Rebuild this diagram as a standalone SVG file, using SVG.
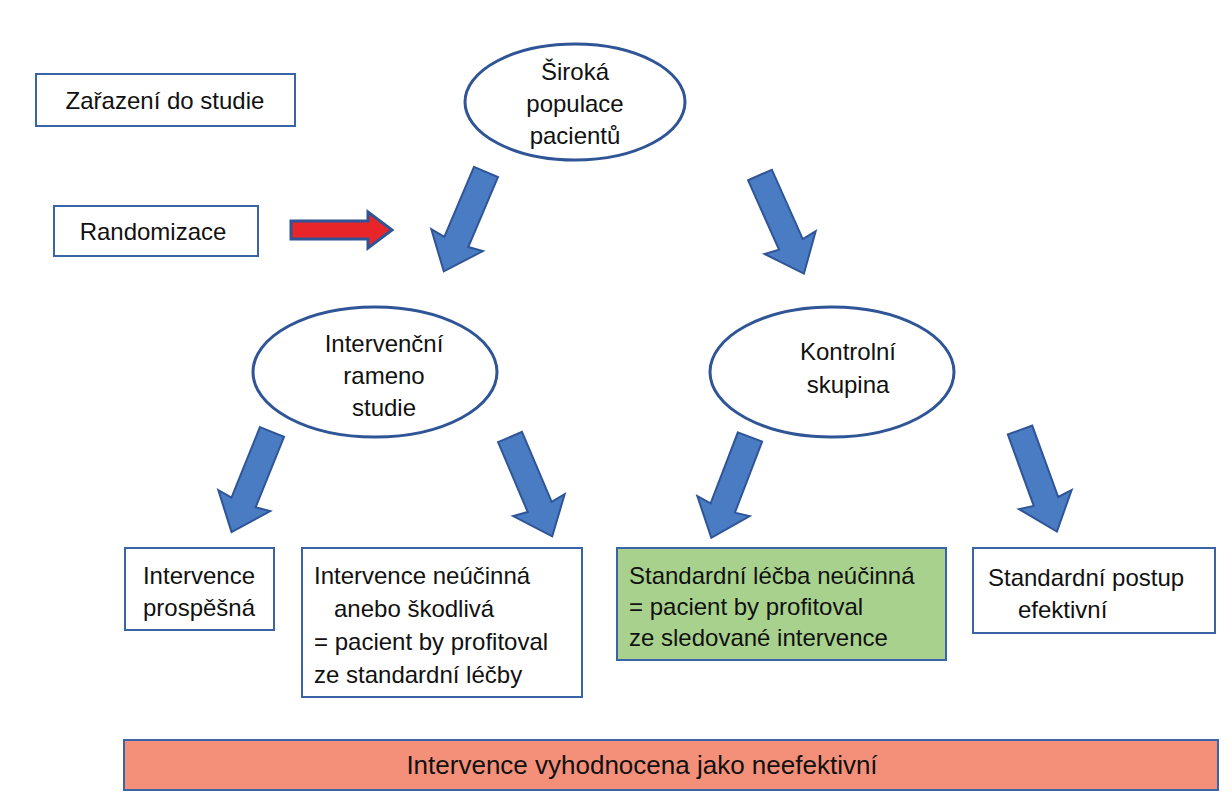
<svg xmlns="http://www.w3.org/2000/svg" width="1232" height="800" viewBox="0 0 1232 800">
<style>
text{font-family:"Liberation Sans",Arial,sans-serif;font-size:24px;fill:#111}
.b{fill:#fff;stroke:#3b64a8;stroke-width:2}
.e{fill:#fff;stroke:#2f5597;stroke-width:3}
.a{fill:#4a7cc4;stroke:#2f5597;stroke-width:2}
</style>
<defs>
<polygon id="arr" points="-13,0 13,0 13,76 28,74 0,108 -28,74 -13,76"/>
</defs>
<rect width="1232" height="800" fill="#fff"/>
<g id="zarazeni"><rect class="b" x="36" y="74" width="259" height="52"/><text x="165" y="109" text-anchor="middle">Zařazení do studie</text></g>
<g id="randomizace"><rect class="b" x="54" y="206" width="204" height="50"/><text x="153" y="240" text-anchor="middle">Randomizace</text></g>
<g id="populace"><ellipse class="e" cx="575" cy="102" rx="110" ry="58"/>
<text x="575" y="80" text-anchor="middle">Široká</text><text x="575" y="112" text-anchor="middle">populace</text><text x="575" y="144" text-anchor="middle">pacientů</text></g>
<g id="intervencni"><ellipse class="e" cx="375" cy="372" rx="122" ry="65"/>
<text x="384" y="352" text-anchor="middle">Intervenční</text><text x="384" y="384" text-anchor="middle">rameno</text><text x="384" y="416" text-anchor="middle">studie</text></g>
<g id="kontrolni"><ellipse class="e" cx="832" cy="372" rx="122" ry="65"/>
<text x="848" y="360" text-anchor="middle">Kontrolní</text><text x="848" y="393" text-anchor="middle">skupina</text></g>
<g id="prospesna"><rect class="b" x="125" y="548" width="149" height="82"/>
<text x="199" y="584" text-anchor="middle">Intervence</text><text x="199" y="616" text-anchor="middle">prospěšná</text></g>
<g id="neucinna"><rect class="b" x="302" y="548" width="280" height="149"/>
<text x="314" y="584">Intervence neúčinná</text><text x="334" y="617">anebo škodlivá</text><text x="314" y="650">= pacient by profitoval</text><text x="314" y="683">ze standardní léčby</text></g>
<g id="standard-neucinna"><rect x="617" y="548" width="329" height="112" fill="#a9d18e" stroke="#3b64a8" stroke-width="2"/>
<text x="629" y="584">Standardní léčba neúčinná</text><text x="629" y="615">= pacient by profitoval</text><text x="629" y="646">ze sledované intervence</text></g>
<g id="standard-efektivni"><rect class="b" x="973" y="548" width="242" height="85"/>
<text x="988" y="586">Standardní postup</text><text x="1018" y="618">efektivní</text></g>
<g id="neefektivni"><rect x="124" y="740" width="1094" height="50" fill="#f4907a" stroke="#3b64a8" stroke-width="2"/>
<text x="642" y="774" text-anchor="middle" style="font-size:26px">Intervence vyhodnocena jako neefektivní</text></g>
<g id="connectors">
<use href="#arr" class="a" transform="translate(486,172) rotate(23)"/>
<use href="#arr" class="a" transform="translate(760,175) rotate(-24)"/>
<use href="#arr" class="a" transform="translate(272,432) rotate(22)"/>
<use href="#arr" class="a" transform="translate(510,437) rotate(-23)"/>
<use href="#arr" class="a" transform="translate(750,437) rotate(21)"/>
<use href="#arr" class="a" transform="translate(1020,430) rotate(-20)"/>
<polygon points="291,221 368,221 368,212 392,230 368,248 368,239 291,239" fill="#e8262a" stroke="#2f5597" stroke-width="3"/>
</g>
</svg>
